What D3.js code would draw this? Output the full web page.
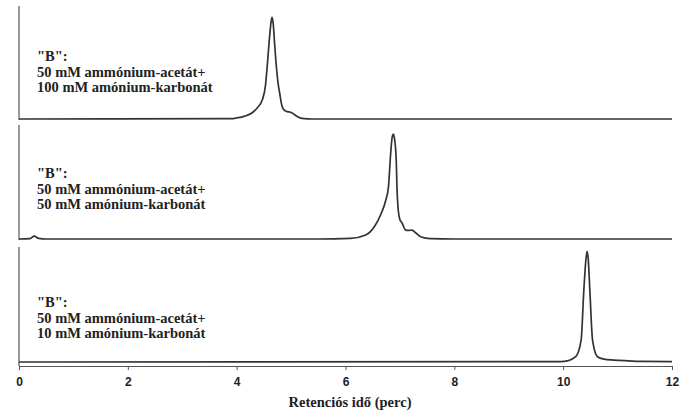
<html>
<head>
<script src="https://cdnjs.cloudflare.com/ajax/libs/d3/7.8.5/d3.min.js"></script>
<style>
  body { margin: 0; background: #fff; }
  text { fill: #222; }
</style>
</head>
<body>
<svg id="MAINSVG" width="695" height="416"></svg>
<script>
// retention time (min), relative signal (%)
var trace100 = [[0,0],[3.9,0.3],[4.0,0.9],[4.15,2.5],[4.28,5.3],[4.38,10],[4.47,16.8],[4.53,30],[4.56,46],
  [4.6,70],[4.63,85],[4.65,90],[4.67,85],[4.7,65],[4.73,46],[4.76,32],[4.79,23],[4.83,12],[4.87,8],
  [4.93,6.5],[4.99,6],[5.06,4],[5.12,2],[5.2,0.5],[5.4,0],[12,0]];
var trace50 = [[0,0],[0.2,0.3],[0.28,2.5],[0.36,0.5],[0.5,0],[5.5,0],[6.09,0.5],[6.37,3.5],[6.53,10.8],
  [6.66,22.8],[6.74,34],[6.79,46],[6.83,75],[6.86,90],[6.88,92],[6.9,88],[6.93,72],[6.95,40],[6.97,25],
  [7.0,17],[7.04,14],[7.1,8],[7.16,7.5],[7.22,7.8],[7.3,5],[7.38,2],[7.56,0.3],[8,0],[12,0]];
var trace10 = [[0,0],[9.9,0.3],[10.02,0.5],[10.23,4.6],[10.33,19],[10.38,62.6],[10.42,90],[10.44,96],
  [10.46,90],[10.49,62.6],[10.54,19],[10.63,4.6],[10.75,2.5],[10.93,1.7],[11.2,1],[11.43,0.5],[12,0.3]];

var labels100 = ["\"B\":", "50 mM ammónium-acetát+", "100 mM amónium-karbonát"];
var labels50  = ["\"B\":", "50 mM ammónium-acetát+", "50 mM amónium-karbonát"];
var labels10  = ["\"B\":", "50 mM ammónium-acetát+", "10 mM amónium-karbonát"];

var xTicks = [0, 2, 4, 6, 8, 10, 12];
var xTitle = "Retenciós idő (perc)";

var SVG = d3.select("#MAINSVG");

var x = d3.scaleLinear().domain([0, 12]).range([19, 672]);
var axis_y = 366;

var panels = [
  {data: trace100, labels: labels100, top: 6,   base: 119, axisEnd: 120, textY: 61},
  {data: trace50,  labels: labels50,  top: 125, base: 239, axisEnd: 240, textY: 178},
  {data: trace10,  labels: labels10,  top: 247, base: 362, axisEnd: axis_y, textY: 307}
];

panels.forEach(function(p) {
  var y = d3.scaleLinear().domain([0, 100]).range([p.base, p.top]);

  // left axis line of the panel
  SVG.append("line")
     .attr("x1", x(0)).attr("x2", x(0))
     .attr("y1", p.top).attr("y2", p.axisEnd)
     .attr("stroke", "#555")
     .attr("stroke-width", 1.2);

  var line = d3.line()
     .x(function(d) { return x(d[0]); })
     .y(function(d) { return y(d[1]); })
     .curve(d3.curveMonotoneX);

  SVG.append("path")
     .datum(p.data)
     .attr("d", line)
     .attr("fill", "none")
     .attr("stroke", "#333")
     .attr("stroke-width", 1.7)
     .attr("stroke-linejoin", "round");

  SVG.append("text")
     .attr("x", 37)
     .attr("y", p.textY)
     .style("font-family", "'Liberation Serif', 'Times New Roman', serif")
     .style("font-weight", "bold")
     .style("font-size", "14.5px")
     .selectAll("tspan")
     .data(p.labels)
     .enter().append("tspan")
     .attr("x", 37)
     .attr("dy", function(d, i) { return i == 0 ? 0 : 15.5; })
     .text(function(d) { return d; });
});

// x axis
var gx = SVG.append("g")
   .attr("transform", "translate(0," + axis_y + ")")
   .call(d3.axisBottom(x).tickValues(xTicks).tickSize(4).tickSizeOuter(0).tickPadding(7));
gx.select(".domain").attr("stroke", "#555").attr("stroke-width", 1.2);
gx.selectAll(".tick line").attr("stroke", "#555");
gx.selectAll(".tick text")
  .style("font-family", "'Liberation Sans', Arial, sans-serif")
  .style("font-weight", "bold")
  .style("font-size", "12px")
  .attr("fill", "#222");

SVG.append("text")
   .attr("x", 350)
   .attr("y", 407)
   .attr("text-anchor", "middle")
   .style("font-family", "'Liberation Serif', 'Times New Roman', serif")
   .style("font-weight", "bold")
   .style("font-size", "14.5px")
   .text(xTitle);
</script>
</body>
</html>
